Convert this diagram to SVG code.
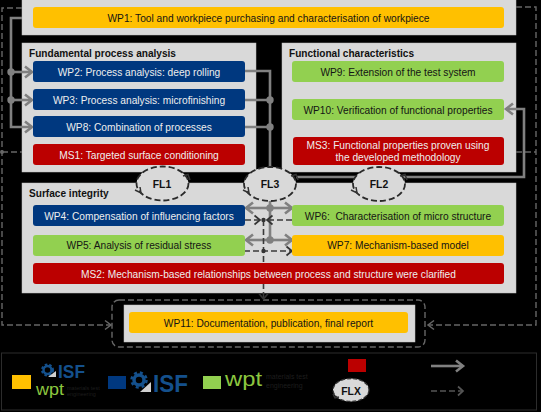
<svg xmlns="http://www.w3.org/2000/svg" width="541" height="412" viewBox="0 0 541 412">
<style>
text{font-family:"Liberation Sans",Arial,sans-serif;font-size:10.2px;text-anchor:middle}
.panel{fill:#d9d9d9;stroke:#bfbfbf;stroke-width:.5}
.y{fill:#ffc000}.b{fill:#00387f}.r{fill:#bb0000}.g{fill:#92d050}
.dk{fill:#141414}.wt{fill:#eeeeee}
.h{font-weight:bold;text-anchor:start;fill:#111;font-size:10.1px}
.fl{font-weight:bold;fill:#111;font-size:10.4px}
.s{fill:none;stroke:#808080;stroke-width:2.6}
.d{fill:none;stroke:#3a3a3a;stroke-width:1.6;stroke-dasharray:6 3}
.o{fill:none;stroke:#666;stroke-width:1.4;stroke-dasharray:6 3}
.e{fill:#d9d9d9;stroke:#2a2a2a;stroke-width:1.8;stroke-dasharray:6 3}
.ah{fill:none;stroke:#333;stroke-width:1.5}
.dot{fill:#808080}.dd{fill:#333}
.sm{fill:#1d1d1d;font-size:5.5px;text-anchor:start}
.isf{fill:#14508c;font-weight:bold;text-anchor:start}
.wpt{fill:#8cc63f;text-anchor:start}
</style>
<defs>
<marker id="as" markerUnits="userSpaceOnUse" markerWidth="14" markerHeight="14" refX="11" refY="7" orient="auto"><path d="M4 1.5L11 7L4 12.5" fill="none" stroke="#808080" stroke-width="2.6"/></marker>
<marker id="ad" markerUnits="userSpaceOnUse" markerWidth="12" markerHeight="12" refX="9" refY="6" orient="auto"><path d="M3.5 1.5L9 6L3.5 10.5" fill="none" stroke="#333" stroke-width="1.7"/></marker>
<marker id="ao" markerUnits="userSpaceOnUse" markerWidth="12" markerHeight="12" refX="9" refY="6" orient="auto"><path d="M3 1.5L9 6L3 10.5" fill="none" stroke="#666" stroke-width="1.5"/></marker>
</defs>
<rect width="541" height="412" fill="#000"/>
<g id="panels">
<rect class="panel" x="22" y="-2" width="494" height="37"/>
<rect class="panel" x="22" y="43" width="234" height="129"/>
<rect class="panel" x="282" y="43" width="234" height="129"/>
<rect class="panel" x="22" y="183" width="494" height="110"/>
<rect class="panel" x="124" y="305" width="291" height="37"/>
<text class="h" x="29" y="56.500">Fundamental process analysis</text>
<text class="h" x="289" y="56.500">Functional characteristics</text>
<text class="h" x="29" y="197">Surface integrity</text>
</g>
<g id="connectors">
<path class="o" d="M22 8H2V325H111" marker-end="url(#ao)"/>
<path class="o" d="M2 152H22"/>
<circle cx="2" cy="152" r="2" fill="#666"/>
<path class="o" d="M516 7H536V325H428" marker-end="url(#ao)"/>
<path class="o" d="M516 152H536"/>
<rect class="o" x="112" y="300" width="313" height="47" rx="7"/>
<path class="s" d="M22 18H11V127H32" marker-end="url(#as)"/>
<path class="s" d="M11 72H32" marker-end="url(#as)"/>
<path class="s" d="M11 100H32" marker-end="url(#as)"/>
<circle class="dot" cx="11" cy="72" r="3.700"/>
<circle class="dot" cx="11" cy="100" r="3.700"/>
<path class="s" d="M245 71H270V170"/>
<path class="s" d="M245 100H270M245 127H270"/>
<circle class="dot" cx="270" cy="100" r="3.700"/>
<circle class="dot" cx="270" cy="127" r="3.700"/>
<path class="s" d="M296 177H524V109H506" marker-end="url(#as)"/>
<path class="s" d="M270 198V240"/>
<path class="s" d="M270 208H292" marker-end="url(#as)"/>
<path class="s" d="M270 208H246" marker-end="url(#as)"/>
<path class="s" d="M270 240H292" marker-end="url(#as)"/>
<path class="s" d="M270 240H246" marker-end="url(#as)"/>
<circle class="dot" cx="270" cy="208" r="3.700"/>
<circle class="dot" cx="270" cy="240" r="3.700"/>
<path class="d" d="M245 220H260" marker-end="url(#ad)"/>
<path class="d" d="M292 220H267" marker-end="url(#ad)"/>
<path class="d" d="M263.500 220V299" marker-end="url(#ad)"/>
<path class="d" d="M244 251H292" marker-end="url(#ad)"/>
<circle class="dd" cx="263.500" cy="220" r="2.200"/>
<circle class="dd" cx="263.500" cy="251" r="2.200"/>
</g>
<g id="wp1"><rect class="y" x="33" y="7" width="471" height="21" rx="3"/><text class="dk" x="268.500" y="21.500">WP1: Tool and workpiece purchasing and characterisation of workpiece</text></g>
<g id="wp2"><rect class="b" x="33" y="61" width="212" height="21" rx="3"/><text class="wt" x="139" y="75.500">WP2: Process analysis: deep rolling</text></g>
<g id="wp3"><rect class="b" x="33" y="89" width="212" height="21" rx="3"/><text class="wt" x="139" y="103.500">WP3: Process analysis: microfinishing</text></g>
<g id="wp8"><rect class="b" x="33" y="116" width="212" height="21" rx="3"/><text class="wt" x="139" y="130.500">WP8: Combination of processes</text></g>
<g id="ms1"><rect class="r" x="33" y="144" width="212" height="21" rx="3"/><text class="wt" x="139" y="158.500">MS1: Targeted surface conditioning</text></g>
<g id="wp9"><rect class="g" x="292" y="61" width="212" height="21" rx="3"/><text class="dk" x="398" y="75.500">WP9: Extension of the test system</text></g>
<g id="wp10"><rect class="g" x="292" y="99" width="212" height="21" rx="3"/><text class="dk" x="398" y="113.500">WP10: Verification of functional properties</text></g>
<g id="ms3"><rect class="r" x="293" y="137" width="211" height="28" rx="3"/><text class="wt" x="398" y="149">MS3: Functional properties proven using</text><text class="wt" x="398" y="161">the developed methodology</text></g>
<g id="wp4"><rect class="b" x="33" y="205" width="212" height="21" rx="3"/><text class="wt" x="139" y="219.500">WP4: Compensation of influencing factors</text></g>
<g id="wp5"><rect class="g" x="33" y="235" width="212" height="21" rx="3"/><text class="dk" x="139" y="249">WP5: Analysis of residual stress</text></g>
<g id="ms2"><rect class="r" x="33" y="263" width="471" height="21" rx="3"/><text class="wt" x="268.500" y="277.500">MS2: Mechanism-based relationships between process and structure were clarified</text></g>
<g id="wp6"><rect class="g" x="292" y="205" width="212" height="21" rx="3"/><text class="dk" x="398" y="219.500" xml:space="preserve">WP6:  Characterisation of micro structure</text></g>
<g id="wp7"><rect class="y" x="292" y="235" width="212" height="21" rx="3"/><text class="dk" x="398" y="249">WP7: Mechanism-based model</text></g>
<g id="wp11"><rect class="y" x="129" y="312" width="279" height="21" rx="3"/><text class="dk" x="268.500" y="326.500">WP11: Documentation, publication, final report</text></g>
<g id="fl1"><ellipse class="e" cx="162.500" cy="183.500" rx="26" ry="17"/><path class="ah" d="M183 176L188 174.500L190 180M135 190L141 193L140 187"/><text class="fl" x="162" y="188">FL1</text></g>
<g id="fl3"><ellipse class="e" cx="270" cy="184" rx="26" ry="17"/><path class="ah" d="M291 176L296 174.500L298 180M243 190L249 193L248 187"/><text class="fl" x="270" y="188">FL3</text></g>
<g id="fl2"><ellipse class="e" cx="379" cy="184" rx="26" ry="17"/><path class="ah" d="M400 176L405 174.500L407 180M351 190L357 193L356 187"/><text class="fl" x="379" y="188">FL2</text></g>
<g id="legend">
<rect x="1.500" y="353" width="535" height="57" fill="none" stroke="#2c2c2c" stroke-width="1"/>
<rect class="y" x="12" y="375" width="19" height="14"/>
<circle cx="47.500" cy="370" r="4" fill="none" stroke="#14508c" stroke-width="2.500"/>
<circle cx="47.500" cy="370" r="5.500" fill="none" stroke="#14508c" stroke-width="2" stroke-dasharray="2.500 2"/>
<path d="M48 377L56 377L56 371Z" fill="#d0d0d0"/>
<text class="isf" x="58" y="378" style="font-size:19px" textLength="27" lengthAdjust="spacingAndGlyphs">ISF</text>
<text class="wpt" x="36" y="395" style="font-size:16px" textLength="28" lengthAdjust="spacingAndGlyphs">wpt</text>
<text class="sm" x="67" y="390">materials test</text>
<text class="sm" x="67" y="396">engineering</text>
<rect class="b" x="108" y="376" width="18" height="13"/>
<circle cx="139" cy="380" r="5" fill="none" stroke="#14508c" stroke-width="3.500"/>
<circle cx="139" cy="380" r="7.500" fill="none" stroke="#14508c" stroke-width="2.500" stroke-dasharray="3 3"/>
<path d="M140 392L151 392L151 382Z" fill="#d0d0d0"/>
<text class="isf" x="153" y="392" style="font-size:24px" textLength="35" lengthAdjust="spacingAndGlyphs">ISF</text>
<rect class="g" x="203" y="376" width="18" height="13"/>
<text class="wpt" x="225" y="386" style="font-size:21px" textLength="37" lengthAdjust="spacingAndGlyphs">wpt</text>
<text class="sm" x="266" y="379" style="font-size:7px">materials test</text>
<text class="sm" x="266" y="388" style="font-size:7px">engineering</text>
<rect class="r" x="348" y="359" width="18" height="13"/>
<ellipse cx="351" cy="390" rx="18" ry="11.500" fill="#d9d9d9" stroke="#333" stroke-width="1.300" stroke-dasharray="4 2"/>
<path class="ah" d="M333 394L335 398L339 397"/>
<text class="fl" x="351" y="395">FLX</text>
<path class="s" d="M431 366H463" marker-end="url(#as)"/>
<path class="d" style="stroke:#555" d="M431 391H462"/>
<path d="M458 386.500L463 391L458 395.500" fill="none" stroke="#555" stroke-width="1.700"/>
</g>
</svg>
